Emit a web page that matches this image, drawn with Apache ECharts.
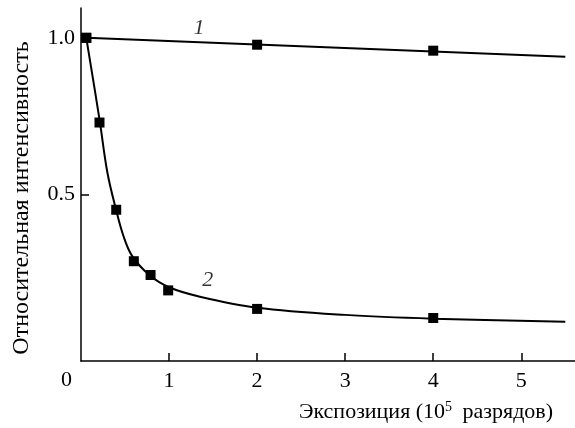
<!DOCTYPE html>
<html>
<head>
<meta charset="utf-8">
<script src="https://cdn.jsdelivr.net/npm/echarts@6/dist/echarts.min.js"></script>
<style>
  html, body { margin: 0; padding: 0; background: #fff; }
  #chart { width: 575px; height: 428px; }
</style>
</head>
<body>
<div id="chart"></div>
<script>
// измеренные точки (экспозиция, 10^5 разрядов; относительная интенсивность)
const points1 = [[0.06, 1.0], [2.0, 0.978], [4.0, 0.959]];
const points2 = [[0.06, 1.0], [0.21, 0.73], [0.40, 0.452], [0.60, 0.288], [0.79, 0.244], [0.99, 0.195], [2.0, 0.136], [4.0, 0.107]];
// сглаженные кривые
const curve1 = [[0.06, 1.0], [5.5, 0.94]];
const curve2 = [[0.06, 1.0], [0.21, 0.74], [0.30, 0.57], [0.40, 0.45], [0.48, 0.37], [0.58, 0.305], [0.78, 0.243], [1.0, 0.205], [1.35, 0.175], [2.0, 0.14], [3.0, 0.117], [4.0, 0.105], [5.5, 0.095]];
// подписи кривых
const curveLabels = [[1.34, 1.03, '1'], [1.44, 0.226, '2']];
const xTicks = [1, 2, 3, 4, 5];
const yTicks = [0.5, 1.0];

const font = 'Liberation Serif';
const fs = 22;
const chart = echarts.init(document.getElementById('chart'));

const option = {
  backgroundColor: '#ffffff',
  animation: false,
  grid: { left: 81, top: 8, right: 0, bottom: 67, containLabel: false },
  xAxis: {
    type: 'value',
    min: 0,
    max: 5.61,
    axisLine: { onZero: false, lineStyle: { color: '#000', width: 1.5 } },
    axisTick: { inside: true, length: 8, customValues: xTicks, lineStyle: { color: '#000', width: 1.5 } },
    axisLabel: { customValues: xTicks, color: '#000', fontFamily: font, fontSize: fs, margin: 9 },
    splitLine: { show: false }
  },
  yAxis: {
    type: 'value',
    min: -0.03,
    max: 1.095,
    axisLine: { show: true, onZero: false, lineStyle: { color: '#000', width: 1.5 } },
    axisTick: { show: true, inside: true, length: 8, customValues: yTicks, lineStyle: { color: '#000', width: 1.5 } },
    axisLabel: {
      customValues: yTicks, color: '#000', fontFamily: font, fontSize: fs, margin: 6,
      formatter: v => v.toFixed(1)
    },
    splitLine: { show: false }
  },
  graphic: [
    {
      type: 'text', left: 61, top: 369,
      style: { text: '0', fill: '#000', fontFamily: font, fontSize: fs }
    },
    {
      type: 'text', x: 22, y: 198, rotation: Math.PI / 2,
      style: {
        text: 'Относительная интенсивность', fill: '#000',
        fontFamily: font, fontSize: 24, align: 'center', verticalAlign: 'middle'
      }
    },
    {
      type: 'text', x: 426, y: 412,
      style: {
        text: 'Экспозиция (10{sup|5} разрядов)', fill: '#000',
        fontFamily: font, fontSize: fs, align: 'center', verticalAlign: 'middle',
        rich: { sup: { fontSize: 14, fontFamily: font, verticalAlign: 'top', padding: [0, 5, 10, 0] } }
      }
    }
  ],
  series: [
    {
      type: 'line', data: curve1, showSymbol: false, smooth: false,
      lineStyle: { color: '#000', width: 2 }, silent: true
    },
    {
      type: 'line', data: curve2, showSymbol: false, smooth: 0.35,
      lineStyle: { color: '#000', width: 2 }, silent: true
    },
    {
      type: 'scatter', data: points1, symbol: 'rect', symbolSize: 10,
      itemStyle: { color: '#000', opacity: 1 }
    },
    {
      type: 'scatter', data: points2, symbol: 'rect', symbolSize: 10,
      itemStyle: { color: '#000', opacity: 1 }
    },
    {
      type: 'scatter', data: curveLabels, symbolSize: 0,
      label: {
        show: true, position: 'inside', formatter: p => p.data[2],
        color: '#000', fontFamily: font, fontStyle: 'italic', fontSize: fs
      }
    }
  ]
};

chart.setOption(option);
</script>
</body>
</html>
